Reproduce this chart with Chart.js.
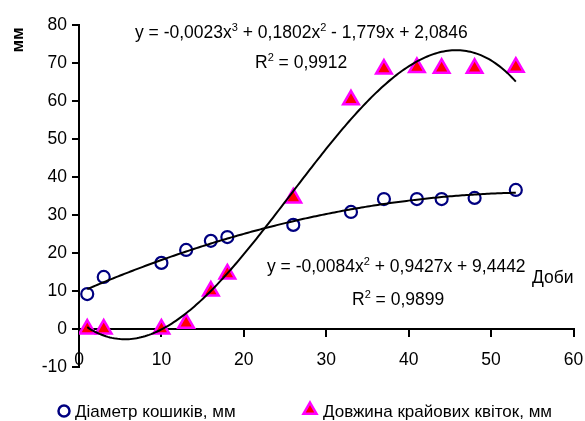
<!DOCTYPE html>
<html><head><meta charset="utf-8">
<script src="https://cdn.jsdelivr.net/npm/chart.js@4/dist/chart.umd.min.js"></script>
<style>html,body{margin:0;padding:0;background:#fff;}canvas{display:block;}</style>
</head><body>
<canvas id="c" width="585" height="421"></canvas>
<script>
// ---- data ----
const days = [1, 3, 10, 13, 16, 18, 26, 33, 37, 41, 44, 48, 53];
const diameter = [9.2, 13.7, 17.4, 20.8, 23.2, 24.2, 27.4, 30.8, 34.2, 34.2, 34.2, 34.5, 36.6];
const rayLength = [0, 0, 0, 1.5, 10, 14.5, 34.5, 60.3, 68.4, 68.8, 68.6, 68.6, 68.9];
const xTickValues = [0, 10, 20, 30, 40, 50, 60];
const yTickValues = [-10, 0, 10, 20, 30, 40, 50, 60, 70, 80];
const seriesNames = ['Діаметр кошиків, мм', 'Довжина крайових квіток, мм'];
const yTitle = 'мм';
const xTitle = 'Доби';
const eqCubic = [['y = -0,0023x', false], ['3', true], [' + 0,1802x', false], ['2', true], [' - 1,779x + 2,0846', false]];
const r2Cubic = [['R', false], ['2', true], [' = 0,9912', false]];
const eqQuad = [['y = -0,0084x', false], ['2', true], [' + 0,9427x + 9,4442', false]];
const r2Quad = [['R', false], ['2', true], [' = 0,9899', false]];

// least-squares polynomial trendline (as the spreadsheet does)
function polyfit(xs, ys, deg) {
  const n = deg + 1;
  const A = [];
  for (let i = 0; i < n; i++) {
    A.push(new Array(n + 1).fill(0));
    for (let j = 0; j < n; j++) A[i][j] = xs.reduce((s, x) => s + Math.pow(x, i + j), 0);
    A[i][n] = xs.reduce((s, x, k) => s + ys[k] * Math.pow(x, i), 0);
  }
  for (let c = 0; c < n; c++) {
    let p = c;
    for (let r = c + 1; r < n; r++) if (Math.abs(A[r][c]) > Math.abs(A[p][c])) p = r;
    [A[c], A[p]] = [A[p], A[c]];
    for (let r = 0; r < n; r++) {
      if (r === c) continue;
      const f = A[r][c] / A[c][c];
      for (let k = c; k <= n; k++) A[r][k] -= f * A[c][k];
    }
  }
  return A.map((row, i) => row[n] / row[i]);
}
function trend(coef) {
  const pts = [];
  const x0 = days[0], x1 = days[days.length - 1];
  for (let i = 0; i <= 208; i++) {
    const x = x0 + (x1 - x0) * i / 208;
    pts.push({x, y: coef.reduce((s, c, k) => s + c * Math.pow(x, k), 0)});
  }
  return pts;
}
const cubic = polyfit(days, rayLength, 3);
const quad = polyfit(days, diameter, 2);

const FONT = "'Liberation Sans', Arial, sans-serif";
Chart.defaults.font.family = FONT;
Chart.defaults.color = '#000';

function drawRich(ctx, parts, x, y, size) {
  let cx = x;
  for (const [t, sup] of parts) {
    ctx.font = (sup ? Math.round(size * 0.62) : size) + 'px ' + FONT;
    ctx.fillText(t, cx, sup ? y - size * 0.42 : y);
    cx += ctx.measureText(t).width;
  }
}

const annotations = {
  id: 'annotations',
  afterDraw(chart) {
    const ctx = chart.ctx;
    ctx.save();
    ctx.fillStyle = '#000';
    ctx.textBaseline = 'alphabetic';
    ctx.textAlign = 'left';
    drawRich(ctx, eqCubic, 135, 38, 17.5);
    drawRich(ctx, r2Cubic, 255, 68, 17.5);
    drawRich(ctx, eqQuad, 267, 272, 17.5);
    drawRich(ctx, r2Quad, 352, 305, 17.5);
    ctx.font = '17.5px ' + FONT;
    ctx.fillText(xTitle, 532, 283);
    // y title
    ctx.save();
    ctx.translate(18.5, 40);
    ctx.rotate(-Math.PI / 2);
    ctx.textAlign = 'center';
    ctx.textBaseline = 'middle';
    ctx.font = 'bold 17px ' + FONT;
    ctx.fillText(yTitle, 0, 0);
    ctx.restore();
    // legend
    const ds = chart.data.datasets;
    const items = [[ds[2], 64, 75], [ds[3], 310, 323]];
    ctx.font = '17px ' + FONT;
    ctx.textBaseline = 'middle';
    items.forEach(([d, px, tx], i) => {
      ctx.fillStyle = d.backgroundColor;
      ctx.strokeStyle = d.borderColor;
      ctx.lineWidth = 2.5;
      Chart.helpers.drawPoint(ctx, {pointStyle: d.pointStyle, radius: i === 0 ? 5.5 : 7.5, rotation: 0, borderWidth: 2.5}, px, i === 0 ? 411 : 410);
      ctx.fillStyle = '#000';
      ctx.fillText(seriesNames[i], tx, 412);
    });
    ctx.restore();
  }
};

new Chart(document.getElementById('c'), {
  type: 'scatter',
  data: {
    datasets: [
      {label: 'cubic', data: trend(cubic), showLine: true, pointRadius: 0, borderColor: '#000', borderWidth: 2, tension: 0, backgroundColor: '#000'},
      {label: 'quad', data: trend(quad), showLine: true, pointRadius: 0, borderColor: '#000', borderWidth: 2, tension: 0, backgroundColor: '#000'},
      {label: seriesNames[0], data: days.map((d, i) => ({x: d, y: diameter[i]})), pointStyle: 'circle', pointRadius: 6, borderWidth: 2.2, borderColor: '#000080', backgroundColor: 'rgba(255,255,255,0)'},
      {label: seriesNames[1], data: days.map((d, i) => ({x: d, y: rayLength[i]})), pointStyle: 'triangle', pointRadius: 9, borderWidth: 2.5, borderColor: '#FF00FF', backgroundColor: '#FF0000'}
    ]
  },
  options: {
    responsive: false,
    animation: false,
    devicePixelRatio: 1,
    layout: {padding: {top: 25, right: 0, bottom: 54, left: 0}},
    plugins: {legend: {display: false}, tooltip: {enabled: false}},
    scales: {
      x: {
        type: 'linear', min: 0, max: 60,
        position: {y: 0},
        afterBuildTicks: s => { s.ticks = xTickValues.map(v => ({value: v})); },
        afterFit: s => { s.paddingRight = 11; s.paddingLeft = 0; },
        ticks: {font: {size: 17.5}, color: '#000', padding: 14, maxRotation: 0},
        border: {color: '#000', width: 2},
        grid: {drawOnChartArea: false, tickLength: 7, color: '#000', lineWidth: 2}
      },
      y: {
        type: 'linear', min: -10, max: 80,
        afterBuildTicks: s => { s.ticks = yTickValues.map(v => ({value: v})); },
        afterFit: s => { s.width = 79; s.paddingTop = 0; s.paddingBottom = 0; },
        ticks: {font: {size: 17.5}, color: '#000', padding: 5},
        border: {color: '#000', width: 2},
        grid: {drawOnChartArea: false, tickLength: 7, color: '#000', lineWidth: 2}
      }
    }
  },
  plugins: [annotations]
});
</script>
</body></html>
